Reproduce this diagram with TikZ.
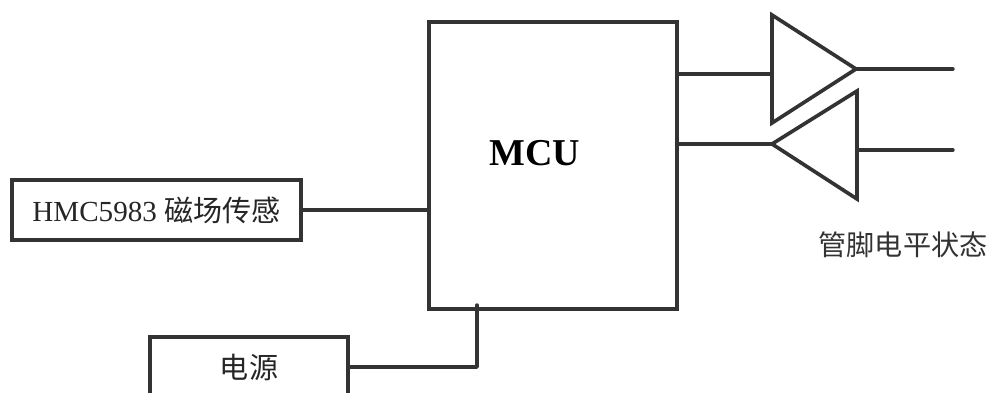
\documentclass[tikz,border=0pt]{standalone}
\usepackage{fontspec}
\setmainfont{Liberation Serif}
\newfontfamily\cjk{Noto Sans CJK SC}
\definecolor{wirecol}{HTML}{333333}
\tikzset{
	wire/.style = {line width=2.4pt, color=wirecol, line cap=round, line join=round},
	blockbox/.style = {draw=wirecol, line width=2.6pt, fill=white, inner sep=0pt, text=black!85, font=\fontsize{20.7}{24}\selectfont},
	amp/.style = {draw=wirecol, line width=2.6pt, line join=miter, fill=white}
}
\begin{document}
\begin{tikzpicture}
	\clip (0,0) rectangle (24.8,9.825);
	\fill[white] (0,0) rectangle (24.8,9.825);

	\node[blockbox, minimum width=6.2cm, minimum height=7.175cm] (mcu) at (13.825,5.6875) {};
	\node[blockbox, minimum width=7.225cm, minimum height=1.5cm] (sensor) at (3.9125,4.575) {HMC5983 {\cjk 磁场传感}};
	\node[blockbox, minimum width=4.95cm, minimum height=1.5cm] (power) at (6.225,0.65) {{\cjk 电源}};
	\node[text=black] (mculabel) at (13.375,5.99) {\fontsize{27}{32}\selectfont\textbf{MCU}};
	\node[text=wirecol] (pinlabel) at (22.575,3.7) {\fontsize{20}{24}\selectfont\cjk 管脚电平状态};

	\coordinate (ampa1) at (19.3,9.45);
	\coordinate (ampa2) at (19.3,6.75);
	\coordinate (ampatip) at (21.4,8.1);
	\coordinate (ampb1) at (21.425,7.55);
	\coordinate (ampb2) at (21.425,4.85);
	\coordinate (ampbtip) at (19.3,6.225);

	\draw[amp] (ampa1) -- (ampatip) -- (ampa2) -- cycle;
	\draw[amp] (ampb1) -- (ampbtip) -- (ampb2) -- cycle;

	\coordinate (ina) at (19.3,7.975);
	\coordinate (inb) at (21.425,6.075);
	\coordinate (outa) at (23.825,8.1);
	\coordinate (outb) at (23.825,6.075);
	\coordinate (powerup) at (11.925,2.2);

	\draw[wire] (mcu.east |- ina) -- (ina);
	\draw[wire] (mcu.east |- ampbtip) -- (ampbtip);
	\draw[wire] (ampatip) -- (outa);
	\draw[wire] (inb) -- (outb);
	\draw[wire] (sensor.east) -- (mcu.west |- sensor.east);
	\draw[wire] (power.east) -| (powerup);
\end{tikzpicture}
\end{document}
